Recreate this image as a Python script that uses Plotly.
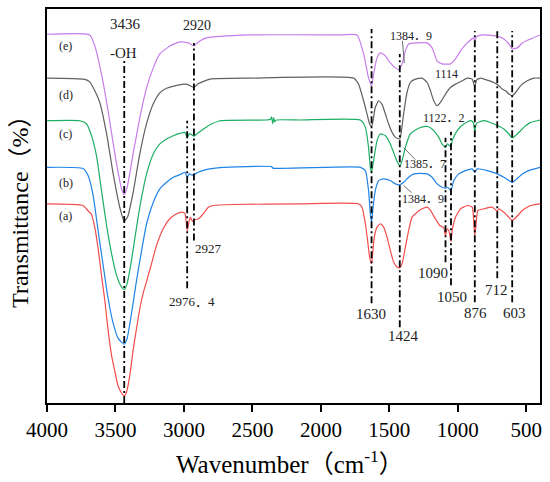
import plotly.graph_objects as go

# --------------------------
# DATA (wavenumber in cm-1, transmittance in arbitrary offset units)
# --------------------------
wn_a = [4000, 3737, 3702, 3675, 3651, 3627, 3602, 3578, 3554, 3529, 3505, 3481, 3456, 3436, 3419, 3395,
        3371, 3346, 3322, 3298, 3273, 3236, 3200, 3151, 3102, 3053, 3017, 2993, 2976, 2963, 2952, 2938,
        2923, 2895, 2859, 2822, 2785, 2639, 2151, 1725, 1700, 1675, 1659, 1644, 1630, 1622, 1610, 1590,
        1566, 1542, 1517, 1493, 1469, 1444, 1424, 1407, 1383, 1359, 1334, 1297, 1261, 1224, 1200, 1164,
        1132, 1103, 1090, 1078, 1066, 1050, 1041, 1017, 980, 932, 895, 883, 876, 866, 854, 810, 749, 712,
        700, 664, 627, 603, 578, 529, 469, 400]
t_a = [199.7, 198, 193, 189, 176, 155, 128, 103, 73, 48, 32, 17, 10, 7, 11, 28,
       53, 75, 95, 110, 122, 140, 158, 175, 185, 189.7, 191.3, 190, 173, 182, 186, 182,
       183.5, 184.7, 189.7, 196.3, 198, 199, 199.7, 199.7, 196.3, 179.7, 163, 146.3, 139.7, 149.7, 166.3, 176.3,
       179.7, 176.3, 166.3, 153, 141.3, 136.3, 135.7, 139.7, 156.3, 173, 186.3, 191.3, 194.7, 196.3, 193, 184.7,
       178, 175.7, 168, 174.7, 173, 162, 173, 186.3, 194.7, 198, 196.3, 179.7, 168, 179.7, 193, 194.7, 196.3, 192.3,
       194.7, 191.3, 186.3, 183, 185.7, 193, 198, 199.7]

wn_b = [4000, 3737, 3700, 3663, 3627, 3590, 3554, 3517, 3481, 3448, 3436, 3415, 3383, 3346, 3309, 3273,
        3224, 3176, 3127, 3078, 3017, 2993, 2976, 2960, 2944, 2927, 2895, 2846, 2810, 2737, 2360, 2350,
        1712, 1675, 1652, 1639, 1630, 1619, 1603, 1578, 1542, 1493, 1456, 1424, 1396, 1359, 1322, 1273,
        1224, 1188, 1151, 1115, 1090, 1074, 1050, 1030, 993, 944, 895, 876, 859, 785, 712, 664, 627, 603,
        578, 529, 469, 400]
t_b = [236.3, 235, 228, 208, 173, 138, 105, 80, 65, 60, 59, 64.7, 89.7, 123, 153, 179.7,
       201.3, 214.7, 221.3, 226.3, 229.7, 231.3, 226.3, 230, 228.5, 229, 231.3, 233.7, 234.7, 236, 237, 235.5,
       236.3, 233, 213, 189.7, 181.3, 196.3, 213, 223, 224.7, 223, 219.7, 218.7, 221.3, 226.3, 229.7, 230.3,
       229.7, 226.3, 219.7, 216.3, 215.3, 216.3, 213, 223, 229.7, 233, 234.7, 231.3, 234.7, 233, 229.7, 226.3, 223, 221.3,
       223.7, 229.7, 233.7, 236.3]

wn_c = [4000, 3761, 3712, 3675, 3639, 3602, 3565, 3529, 3492, 3456, 3436, 3415, 3383, 3346, 3309, 3273,
        3224, 3176, 3127, 3078, 3029, 2993, 2976, 2960, 2944, 2927, 2895, 2846, 2810, 2737, 2395, 2367,
        2360, 2352, 2345, 2338, 2327, 2151, 1712, 1675, 1652, 1639, 1630, 1615, 1590, 1566, 1529, 1493,
        1456, 1432, 1424, 1407, 1383, 1347, 1297, 1249, 1213, 1176, 1139, 1115, 1090, 1078, 1050, 1041,
        1005, 957, 907, 888, 876, 864, 810, 737, 664, 627, 603, 566, 518, 469, 420, 400]
t_c = [283, 283, 280, 268, 248, 213, 178, 150, 128, 116.3, 113.7, 119.7, 143, 176.3, 206.3, 229.7,
       249.7, 259.7, 264.7, 268, 270.3, 271.3, 266, 270, 269, 267.5, 271, 275.7, 279, 283, 283.7, 284.5,
       287, 280, 286, 282, 283.7, 283.7, 283.7, 276.3, 256.3, 236.3, 231.3, 243, 263, 269.7, 268, 259.7,
       246.3, 239, 238, 243, 256.3, 269.7, 274.7, 277, 277, 273, 266.3, 259.7, 256.3, 259.7, 257, 263,
       273, 279.7, 283, 281.3, 273, 280.3, 283, 279.7, 274.7, 269.7, 265.7, 269.7, 276.3, 281.3, 283, 283.7]

wn_d = [4000, 3724, 3688, 3651, 3614, 3565, 3517, 3468, 3436, 3410, 3371, 3322, 3273, 3224, 3176, 3127,
        3053, 2980, 2927, 2897, 2810, 2517, 1761, 1725, 1688, 1663, 1644, 1630, 1619, 1603, 1578, 1554,
        1529, 1505, 1480, 1456, 1424, 1415, 1396, 1371, 1347, 1310, 1261, 1224, 1200, 1176, 1151, 1127,
        1090, 1054, 1017, 968, 932, 895, 876, 864, 834, 785, 737, 700, 676, 651, 627, 603, 578, 542,
        493, 444, 400]
t_d = [325.7, 324.5, 322, 313, 301, 270, 230, 196, 182, 187, 211, 250, 280, 300, 311, 315.5,
       318.5, 319.7, 316.5, 320, 324.7, 325.7, 325.7, 319.7, 303, 289.7, 279.7, 277, 283, 296.3, 303, 299.7,
       289.7, 279.7, 271.3, 266.3, 264.7, 269.7, 289.7, 311.3, 321.3, 324.7, 325.7, 321.3, 313, 303, 298, 301.3,
       309.7, 316.3, 319.7, 323, 325.7, 324.7, 316.3, 323.7, 325.7, 323.7, 321.3, 318, 314.7, 313, 309.7, 308, 311.3, 318,
       323, 325.7, 325.7]

wn_e = [4000, 3688, 3651, 3602, 3554, 3505, 3456, 3436, 3415, 3371, 3322, 3273, 3224, 3176, 3102, 3029,
        2968, 2927, 2895, 2834, 2517, 1859, 1736, 1688, 1652, 1630, 1615, 1590, 1566, 1529, 1493, 1456,
        1432, 1407, 1383, 1359, 1297, 1224, 1188, 1151, 1115, 1054, 1017, 980, 932, 883, 876, 865, 822,
        724, 664, 627, 603, 566, 529, 468, 400]
t_e = [369.7, 369, 358, 329.7, 293, 250, 215, 209, 216, 250, 286, 316, 336, 350, 358, 362,
       361, 358, 362, 366, 369, 369, 369, 350, 326, 318, 330, 346, 351, 348, 341, 336,
       334, 340, 353, 360, 361, 361, 356, 343, 340, 340, 345, 353, 361, 366, 362, 367, 369,
       368, 365, 360, 355, 356, 361, 365, 369]

sample_names = ["(a)", "(b)", "(c)", "(d)", "(e)"]
sample_colors = ["#f24d4d", "#1f84e6", "#1dae63", "#606060", "#c77dea"]

# marked bands: wavenumber, line top, line bottom
band_wn = [3436, 2927, 2976.4, 1630, 1424, 1090, 1050, 876, 712, 603]
band_top = [343, 361, 283, 375, 350, 266, 272, 373, 375, 373]
band_bottom = [0, 163, 115, 100, 76, 141, 118, 101, 125, 101]

tick_vals = [4000, 3500, 3000, 2500, 2000, 1500, 1000, 500]

SERIF = "Liberation Serif, Noto Sans CJK SC, serif"

# --------------------------
# FIGURE
# --------------------------
fig = go.Figure()

series = [(wn_a, t_a), (wn_b, t_b), (wn_c, t_c), (wn_d, t_d), (wn_e, t_e)]
for (wn, t), name, col in zip(series, sample_names, sample_colors):
    fig.add_trace(go.Scatter(
        x=wn, y=t, mode="lines", name=name,
        line=dict(color=col, width=1.2, shape="spline", smoothing=0.5),
        showlegend=False
    ))

# dash-dot band lines
for wn, top, bot in zip(band_wn, band_top, band_bottom):
    fig.add_shape(type="line", x0=wn, x1=wn, y0=bot, y1=top, xref="x", yref="y",
                  line=dict(color="black", width=1.8, dash="7px,3px,2px,3px"))

# --------------------------
# LABELS
# --------------------------
def label(text, x, y, size=14, color="#222222"):
    fig.add_annotation(x=x, y=y, text=text, showarrow=False, xref="x", yref="y",
                       xanchor="center", yanchor="middle",
                       font=dict(family=SERIF, size=size, color=color))

label("3436", 3424, 380, 15)
label("-OH", 3438, 351, 15)
label("2920", 2905, 378, 14)
label("2927", 2824, 155, 13)
label("2976．4", 2941, 102, 13)
label("1630", 1637, 89, 15)
label("1424", 1396, 67, 15)
label("1090", 1185, 130, 15)
label("1050", 1039, 106, 15)
label("876", 871, 90, 15)
label("712", 717, 113, 15)
label("603", 585, 90, 15)
label("1384．9", 1339, 368, 12)
label("1114", 1083, 330, 12)
label("1122．2", 1098, 286, 12)
label("1385．7", 1237, 240, 12)
label("1384．9", 1251, 205, 12)

# sample tags
for name, y in zip(sample_names, [187, 221, 270, 309, 358]):
    label(name, 3863, y, 12)

# leader lines
for x0, y0, x1, y1 in [(1405, 363, 1390, 341), (1396, 256, 1310, 244), (1396, 218, 1339, 211)]:
    fig.add_shape(type="line", x0=x0, y0=y0, x1=x1, y1=y1, xref="x", yref="y",
                  line=dict(color="#444444", width=0.8))

# axis titles
fig.add_annotation(text="Transmittance（%）", x=-0.055, y=0.5, xref="paper", yref="paper",
                   xanchor="center", yanchor="middle",
                   textangle=-90, showarrow=False, font=dict(family=SERIF, size=24, color="black"))
fig.add_annotation(text="Wavenumber（cm<sup>-1</sup>）", x=0.493, y=-0.149, xref="paper", yref="paper",
                   xanchor="center", yanchor="middle",
                   showarrow=False, font=dict(family=SERIF, size=25, color="black"))

# --------------------------
# LAYOUT
# --------------------------
fig.update_layout(
    width=550, height=482,
    margin=dict(l=47, r=10, t=7, b=79),
    paper_bgcolor="white",
    plot_bgcolor="white",
    showlegend=False
)

fig.update_xaxes(
    range=[4000, 400], tickvals=tick_vals, ticks="outside", ticklen=7, tickwidth=1.5,
    tickcolor="black", showline=True, linecolor="black", linewidth=1.5, mirror=True,
    showgrid=False, zeroline=False,
    tickfont=dict(family=SERIF, size=21, color="black")
)
fig.update_yaxes(
    range=[0, 395], showticklabels=False, ticks="", showline=True, linecolor="black",
    linewidth=1.5, mirror=True, showgrid=False, zeroline=False
)

fig.write_html("out.html", config={"displayModeBar": False},
               post_script="document.body.style.margin='0';document.body.style.padding='0';")
